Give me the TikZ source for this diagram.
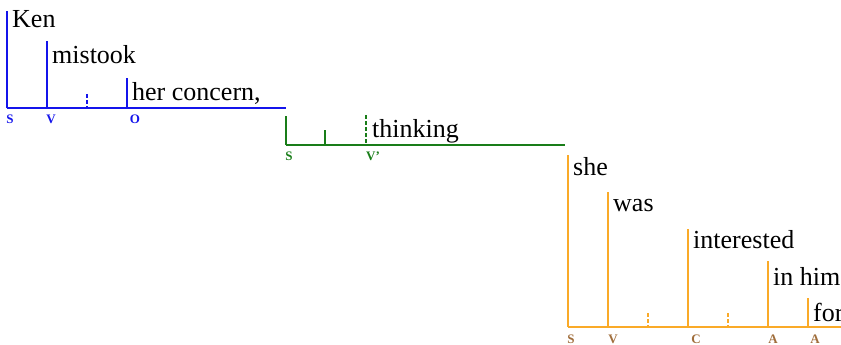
\documentclass[tikz,border=0pt]{standalone}
\usepackage{fontspec}
\setmainfont{Liberation Serif}
\definecolor{cblue}{RGB}{20,20,235}
\definecolor{cgreen}{RGB}{25,125,25}
\definecolor{corange}{RGB}{250,170,40}
\definecolor{cbrown}{RGB}{160,110,60}
\tikzset{
  word/.style={anchor=base west, inner sep=0pt, font=\fontsize{26}{30}\selectfont},
  lab/.style={anchor=base, inner sep=0pt, font=\fontsize{13}{14}\selectfont\bfseries},
  baseln/.style={line width=1.8pt},
  vert/.style={line width=1.2pt},
  dtick/.style={line width=1.2pt, dash pattern=on 4pt off 2pt},
}
\begin{document}
\begin{tikzpicture}[x=1pt,y=-1pt]
\useasboundingbox (0,0) rectangle (841,345);
\clip (0,0) rectangle (841,345);
% ---------- blue clause ----------
\begin{scope}[color=cblue]
\coordinate (bS0) at (7,108);  \coordinate (bS1) at (7,11);
\coordinate (bE) at (286,108);
\coordinate (bV0) at (47,108); \coordinate (bV1) at (47,41);
\coordinate (bD0) at (87,108); \coordinate (bD1) at (87,94);
\coordinate (bO0) at (127,108); \coordinate (bO1) at (127,78);
\draw[baseln] (bS0) -- (bE);
\draw[vert] (bS0) -- (bS1);
\draw[vert] (bV0) -- (bV1);
\draw[dtick] (bD1) -- (bD0);
\draw[vert] (bO0) -- (bO1);
\node[word, text=black] (ken) at (12,28) {Ken};
\node[word, text=black] (mistook) at (52,64) {mistook};
\node[word, text=black] (her) at (132,100) {her concern,};
\node[lab] (lS1) at (10,124) {S};
\node[lab] (lV1) at (51,124) {V};
\node[lab] (lO1) at (135,124) {O};
\end{scope}
% ---------- green clause ----------
\begin{scope}[color=cgreen]
\coordinate (gS0) at (286,145); \coordinate (gS1) at (286,116);
\coordinate (gE) at (565,145);
\coordinate (gT0) at (325,145); \coordinate (gT1) at (325,130);
\coordinate (gD0) at (366,145); \coordinate (gD1) at (366,115);
\draw[baseln] (gS0) -- (gE);
\draw[vert] (gS0) -- (gS1);
\draw[vert] (gT0) -- (gT1);
\draw[dtick] (gD1) -- (gD0);
\node[word, text=black] (thinking) at (372,137) {thinking};
\node[lab] (lS2) at (289,160) {S};
\node[lab] (lV2) at (373,160) {V'};
\end{scope}
% ---------- orange clause ----------
\begin{scope}[color=corange]
\coordinate (oS0) at (568,327); \coordinate (oS1) at (568,155);
\coordinate (oE) at (845,327);
\coordinate (oV0) at (608,327); \coordinate (oV1) at (608,192);
\coordinate (oD0) at (648,327); \coordinate (oD1) at (648,313);
\coordinate (oC0) at (688,327); \coordinate (oC1) at (688,229);
\coordinate (oF0) at (728,327); \coordinate (oF1) at (728,313);
\coordinate (oA0) at (768,327); \coordinate (oA1) at (768,261);
\coordinate (oB0) at (808,327); \coordinate (oB1) at (808,298);
\draw[baseln] (oS0) -- (oE);
\draw[vert] (oS0) -- (oS1);
\draw[vert] (oV0) -- (oV1);
\draw[dtick] (oD1) -- (oD0);
\draw[vert] (oC0) -- (oC1);
\draw[dtick] (oF1) -- (oF0);
\draw[vert] (oA0) -- (oA1);
\draw[vert] (oB0) -- (oB1);
\node[word, text=black] (she) at (573,175) {she};
\node[word, text=black] (was) at (613,211) {was};
\node[word, text=black] (interested) at (693,248) {interested};
\node[word, text=black] (inhim) at (773,285) {in him};
\node[word, text=black] (for) at (813,321) {for};
\end{scope}
\begin{scope}[color=cbrown]
\node[lab] (lS3) at (571,343) {S};
\node[lab] (lV3) at (613,343) {V};
\node[lab] (lC3) at (696,343) {C};
\node[lab] (lA3) at (773,343) {A};
\node[lab] (lB3) at (815,343) {A};
\end{scope}
\end{tikzpicture}
\end{document}
